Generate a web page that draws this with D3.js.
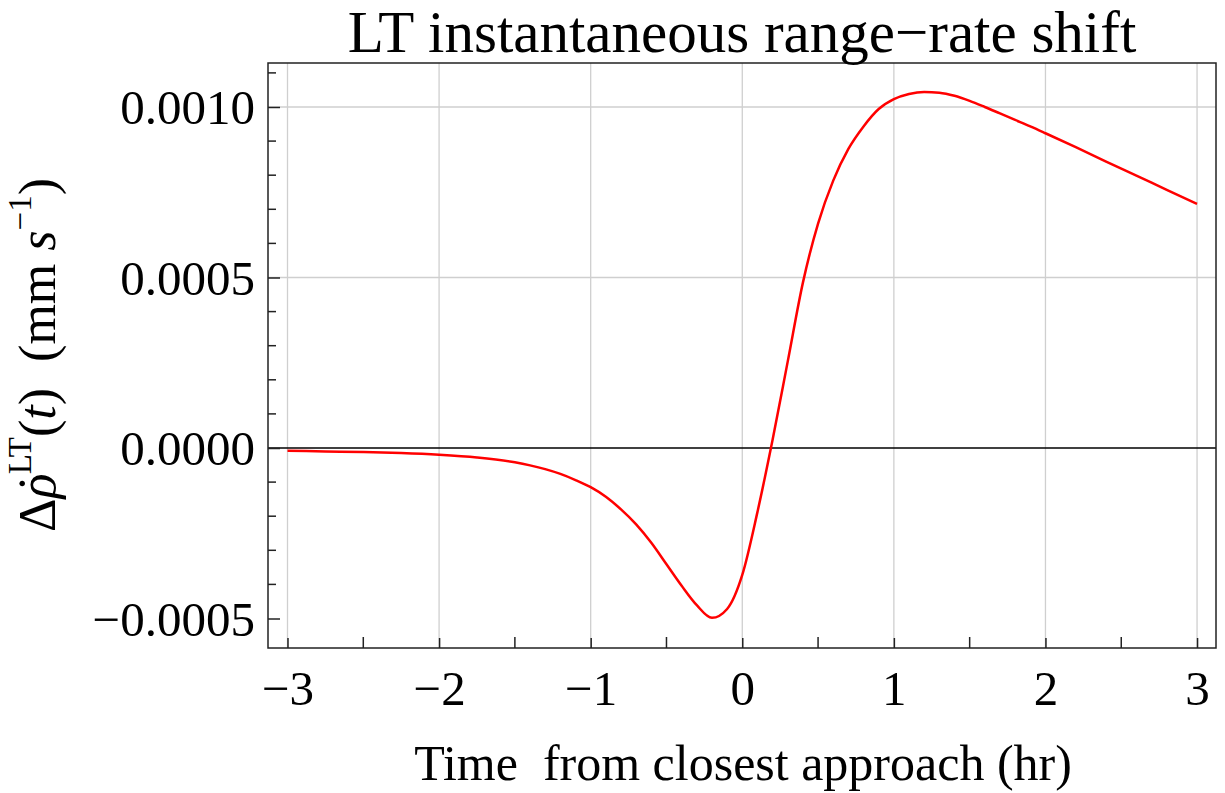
<!DOCTYPE html>
<html>
<head>
<meta charset="utf-8">
<script src="https://cdn.jsdelivr.net/npm/d3@7"></script>
<style>
  html, body { margin: 0; padding: 0; background: #fff; }
  svg { display: block; }
  text { font-family: "Liberation Serif", "Times New Roman", serif; fill: #000; }
</style>
</head>
<body>
<svg id="chart" width="1225" height="793"></svg>
<script>
// Time from closest approach (hr)
const tHours = [-3.0, -2.75, -2.5, -2.25, -2.0, -1.75, -1.5, -1.4, -1.3, -1.2, -1.1, -1.0,
                -0.9, -0.8, -0.7, -0.6, -0.5, -0.4, -0.3, -0.2, -0.1, 0.0,
                0.1, 0.2, 0.3, 0.4, 0.5, 0.6, 0.7, 0.8, 0.9, 1.0,
                1.1, 1.2, 1.3, 1.4, 1.5, 1.6, 1.7, 1.8, 1.9, 2.0,
                2.2, 2.4, 2.6, 2.8, 3.0];
// Light-time range-rate shift (mm/s)
const rangeRateShift = [-0.000008, -0.00001, -0.000012, -0.000015, -0.00002, -0.000028, -0.000042, -0.000051,
                -0.000062, -0.000076, -0.000094, -0.000115,
                -0.000143, -0.000180, -0.000224, -0.000278, -0.000341, -0.000404, -0.000461, -0.000498, -0.000472, -0.000372,
                -0.000188, 0.000024, 0.000254, 0.000485, 0.000658, 0.000784, 0.000877, 0.000943, 0.000994, 0.001023,
                0.001038, 0.001044, 0.001042, 0.001033, 0.001018, 0.001, 0.000981, 0.000962, 0.000943, 0.000923,
                0.000882, 0.00084, 0.000799, 0.000757, 0.000716];

const xMajorTicks = [-3, -2, -1, 0, 1, 2, 3];
const xMinorTicks = [-2.5, -1.5, -0.5, 0.5, 1.5, 2.5];
const yMajorTicks = [-0.0005, 0, 0.0005, 0.001];
const yTickLabels = ["\u22120.0005", "0.0000", "0.0005", "0.0010"];
const yGridValues = [0.0005, 0.001];
const yMinorTicks = [-0.0004, -0.0003, -0.0002, -0.0001, 0.0001, 0.0002, 0.0003, 0.0004,
                     0.0006, 0.0007, 0.0008, 0.0009, 0.0011];

const svg = d3.select("#chart");
const frame = { left: 268, right: 1216, top: 63, bottom: 648 };

const x = d3.scaleLinear().domain([-3.1286, 3.125]).range([frame.left, frame.right]);
const y = d3.scaleLinear().domain([-0.0005865, 0.001129]).range([frame.bottom, frame.top]);

// grid
const grid = svg.append("g").attr("stroke", "#cfcfcf").attr("stroke-width", 1.3);
grid.selectAll("line.v").data(xMajorTicks).join("line")
  .attr("x1", d => x(d)).attr("x2", d => x(d))
  .attr("y1", frame.top).attr("y2", frame.bottom);
grid.selectAll("line.h").data(yGridValues).join("line")
  .attr("x1", frame.left).attr("x2", frame.right)
  .attr("y1", d => y(d)).attr("y2", d => y(d));

// zero line
svg.append("line")
  .attr("x1", frame.left).attr("x2", frame.right)
  .attr("y1", y(0)).attr("y2", y(0))
  .attr("stroke", "#000").attr("stroke-width", 1.3);

// curve
const line = d3.line()
  .x((d, i) => x(tHours[i]))
  .y(d => y(d))
  .curve(d3.curveMonotoneX);
svg.append("path")
  .attr("d", line(rangeRateShift))
  .attr("fill", "none")
  .attr("stroke", "#ff0000")
  .attr("stroke-width", 2.5)
  .attr("stroke-linejoin", "round");

// frame
svg.append("rect")
  .attr("x", frame.left).attr("y", frame.top)
  .attr("width", frame.right - frame.left).attr("height", frame.bottom - frame.top)
  .attr("fill", "none").attr("stroke", "#222").attr("stroke-width", 1.5);

// bottom axis (ticks point inward)
const xAxis = d3.axisBottom(x)
  .tickValues(xMajorTicks)
  .tickSize(-10)
  .tickPadding(22)
  .tickFormat(d => d < 0 ? "\u2212" + Math.abs(d) : String(d));
const gx = svg.append("g").attr("transform", `translate(0,${frame.bottom})`).call(xAxis);
gx.select(".domain").remove();
gx.selectAll(".tick line").attr("stroke", "#222").attr("stroke-width", 1.5);
gx.selectAll(".tick text").attr("font-size", 49).attr("font-family", "Liberation Serif").attr("dy", "0.71em");
svg.append("g").selectAll("line").data(xMinorTicks).join("line")
  .attr("x1", d => x(d)).attr("x2", d => x(d))
  .attr("y1", frame.bottom).attr("y2", frame.bottom - 11)
  .attr("stroke", "#222").attr("stroke-width", 1.5);

// left axis
const yAxis = d3.axisLeft(y)
  .tickValues(yMajorTicks)
  .tickSize(-12)
  .tickPadding(13)
  .tickFormat((d, i) => yTickLabels[i]);
const gy = svg.append("g").attr("transform", `translate(${frame.left},0)`).call(yAxis);
gy.select(".domain").remove();
gy.selectAll(".tick line").attr("stroke", "#222").attr("stroke-width", 1.5);
gy.selectAll(".tick text").attr("font-size", 49).attr("font-family", "Liberation Serif").attr("dy", "0.34em");
svg.append("g").selectAll("line").data(yMinorTicks).join("line")
  .attr("x1", frame.left).attr("x2", frame.left + 8)
  .attr("y1", d => y(d)).attr("y2", d => y(d))
  .attr("stroke", "#222").attr("stroke-width", 1.5);

// title
svg.append("text")
  .attr("x", 742).attr("y", 52)
  .attr("text-anchor", "middle")
  .attr("font-size", 59)
  .text("LT instantaneous range\u2212rate shift");

// x label
svg.append("text")
  .attr("x", 743).attr("y", 780)
  .attr("text-anchor", "middle")
  .attr("font-size", 50)
  .attr("xml:space", "preserve")
  .text("Time  from closest approach (hr)");

// y label
const yl = svg.append("text")
  .attr("transform", "translate(55,355) rotate(-90)")
  .attr("text-anchor", "middle")
  .attr("font-size", 52)
  .attr("xml:space", "preserve");
yl.append("tspan").text("\u0394");
yl.append("tspan").attr("font-style", "italic").text("\u03C1");
yl.append("tspan").attr("dx", "-0.36em").text("\u02D9");
yl.append("tspan").attr("font-size", 33).attr("dy", "-0.72em").attr("dx", "0.02em").text("LT");
yl.append("tspan").attr("dy", "0.46em").text("(");
yl.append("tspan").attr("font-style", "italic").text("t");
yl.append("tspan").text(")  (mm ");
yl.append("tspan").attr("font-style", "italic").text("s");
yl.append("tspan").attr("font-size", 33).attr("dy", "-0.72em").text("\u22121");
yl.append("tspan").attr("dy", "0.46em").text(")");
</script>
</body>
</html>
